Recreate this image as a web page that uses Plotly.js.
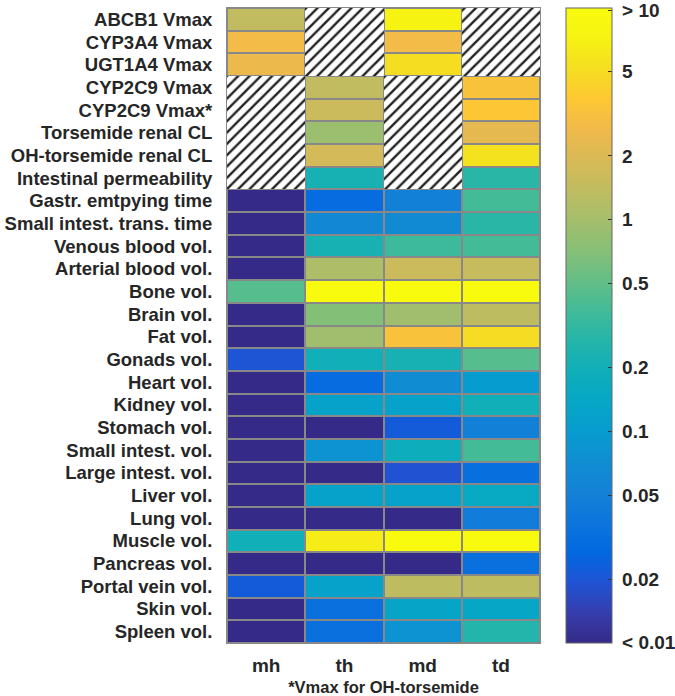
<!DOCTYPE html>
<html><head><meta charset="utf-8">
<script src="https://cdn.plot.ly/plotly-3.0.1.min.js"></script>
<style>body{margin:0;background:#fff}#chart{width:675px;height:696px}</style>
</head><body><div id="chart"></div>
<script>
const rowLabels = ["ABCB1 Vmax","CYP3A4 Vmax","UGT1A4 Vmax","CYP2C9 Vmax","CYP2C9 Vmax*","Torsemide renal CL","OH-torsemide renal CL","Intestinal permeability","Gastr. emtpying time","Small intest. trans. time","Venous blood vol.","Arterial blood vol.","Bone vol.","Brain vol.","Fat vol.","Gonads vol.","Heart vol.","Kidney vol.","Stomach vol.","Small intest. vol.","Large intest. vol.","Liver vol.","Lung vol.","Muscle vol.","Pancreas vol.","Portal vein vol.","Skin vol.","Spleen vol."];
const columns = ["mh","th","md","td"];
// values (null = not applicable, hatched)
const mh = [1.4,2.8,2.5,null,null,null,null,null,0.005,0.005,0.005,0.005,0.45,0.005,0.005,0.02,0.005,0.005,0.005,0.005,0.005,0.005,0.005,0.2,0.005,0.022,0.005,0.005];
const th = [null,null,null,1.4,1.6,0.9,1.8,0.22,0.03,0.06,0.22,1.1,12,0.7,0.95,0.2,0.03,0.12,0.005,0.08,0.005,0.12,0.005,6.4,0.005,0.12,0.033,0.033];
const md = [7.2,2.8,5.2,null,null,null,null,null,0.05,0.065,0.35,1.6,12,0.95,3.3,0.22,0.07,0.12,0.022,0.18,0.019,0.12,0.005,12,0.005,1.35,0.13,0.08];
const td = [null,null,null,3.3,3.6,2.3,5.5,0.28,0.38,0.28,0.38,1.5,12,1.35,5,0.45,0.1,0.2,0.05,0.38,0.032,0.15,0.045,12,0.033,1.35,0.14,0.26];
const cbTickVals = [0.01,0.02,0.05,0.1,0.2,0.5,1,2,5,10];
const cbTickText = ["&lt; 0.01","0.02","0.05","0.1","0.2","0.5","1","2","5","&gt; 10"];

const series = [mh, th, md, td];
const rowIdx = rowLabels.map((_, i) => i);
const colIdx = columns.map((_, j) => j);
const z = rowLabels.map((_, i) => series.map(s => s[i] == null ? null : Math.max(-2, Math.min(1, Math.log10(s[i])))));

// hatched cells for missing values
const nx = [], nbase = [], ny = [];
series.forEach((s, j) => s.forEach((v, i) => { if (v == null) { nx.push(j); nbase.push(i - 0.5); ny.push(1); } }));

// parula (sampled)
const parulaRGB = [[0.2081,0.1663,0.5292],[0.2081,0.2386,0.6771],[0.1253,0.3242,0.8303],[0.0060,0.4086,0.8828],[0.0498,0.4586,0.8641],[0.0779,0.5040,0.8384],[0.0641,0.5570,0.8240],[0.0265,0.6137,0.8135],[0.0228,0.6535,0.7768],[0.0590,0.6838,0.7254],[0.1453,0.7098,0.6646],[0.2586,0.7317,0.5954],[0.3953,0.7459,0.5244],[0.5300,0.7491,0.4661],[0.6473,0.7456,0.4188],[0.7525,0.7384,0.3768],[0.8507,0.7299,0.3360],[0.9450,0.7261,0.2886],[0.9955,0.7861,0.1967],[0.9626,0.8705,0.1309],[0.9661,0.9514,0.0755],[0.9763,0.9831,0.0538]];
const parula = parulaRGB.map((c, k) => [k === parulaRGB.length - 1 ? 1 : (k * 3) / 63, 'rgb(' + c.map(v => Math.round(v * 255)).join(',') + ')']);
const font = {family:'"Liberation Sans", Arial, sans-serif', size:18.5, color:'#262626', weight:'bold'};

const traces = [{
  type:'heatmap', x: colIdx, y: rowIdx, z: z, zmin:-2, zmax:1, colorscale: parula,
  xgap:2, ygap:2, hoverinfo:'skip',
  colorbar:{tickmode:'array', tickvals: cbTickVals.map(v => Math.min(0.99, Math.max(-1.999, Math.log10(v)))),
    ticktext: cbTickText.map(t => '\u00a0' + t), ticklabeloverflow:'allow',
    thickness:46, thicknessmode:'pixels', len:1, lenmode:'fraction', y:0.5, yanchor:'middle',
    x:1.083, xanchor:'left', xpad:0, ypad:0, outlinecolor:'#666', outlinewidth:1,
    ticks:'inside', ticklen:4, tickcolor:'#333', tickfont: {...font, size:19}}
},{
  type:'bar', x: nx, y: ny, base: nbase, width: 1, hoverinfo:'skip', showlegend:false,
  marker:{color:'#ffffff', line:{width:0}, pattern:{shape:'/', fgcolor:'#222', bgcolor:'#ffffff', size:8, solidity:0.3}}
}];

const layout = {
  width:675, height:696, margin:{l:227, r:135, t:8, b:53, autoexpand:false},
  paper_bgcolor:'#fff', plot_bgcolor:'#888', showlegend:false, bargap:0,
  font: font,
  xaxis:{range:[-0.5,3.5], tickvals: colIdx, ticktext: columns, showgrid:false, zeroline:false, automargin:false,
    showline:true, mirror:true, linecolor:'#888', linewidth:1, ticks:'', tickfont: {...font, size:19}, ticklabelstandoff:5,
    title:{text:'*Vmax for OH-torsemide', font:{...font, size:16.5}, standoff:10}},
  yaxis:{range:[27.5,-0.5], tickvals: rowIdx, ticktext: rowLabels, showgrid:false, zeroline:false, automargin:false,
    showline:true, mirror:true, linecolor:'#888', linewidth:1, ticks:'', tickfont: font, ticklabelstandoff:10}
};
Plotly.newPlot('chart', traces, layout, {displayModeBar:false, staticPlot:true});
</script></body></html>
